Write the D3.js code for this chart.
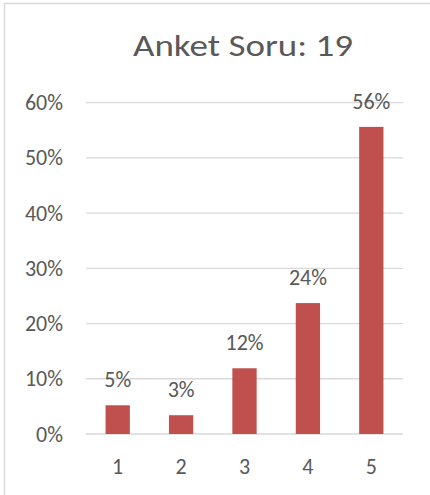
<!DOCTYPE html>
<html>
<head>
<meta charset="utf-8">
<script src="https://cdn.jsdelivr.net/npm/d3@7"></script>
<style>
  body { margin: 0; background: #fff; }
  text { font-family: Calibri, Carlito, Lato, sans-serif; fill: #595959; }
</style>
</head>
<body>
<div id="chart"></div>
<script>
// survey answers 1..5 and their share
const categories = ["1", "2", "3", "4", "5"];
const values = [0.052, 0.034, 0.119, 0.237, 0.556];
const labels = ["5%", "3%", "12%", "24%", "56%"];
const yTicks = [0, 0.1, 0.2, 0.3, 0.4, 0.5, 0.6];
const title = "Anket Soru: 19";

var W = 430, H = 495;
var fs = "22px";

var svg = d3.select("#chart")
  .append("svg")
  .attr("width", W)
  .attr("height", H);

// chart frame, only top and left edges are visible in the crop
svg.append("line")
  .attr("x1", 4).attr("x2", W).attr("y1", 3.5).attr("y2", 3.5)
  .attr("stroke", "#d9d9d9").attr("stroke-width", 1.5);
svg.append("line")
  .attr("x1", 4.5).attr("x2", 4.5).attr("y1", 3).attr("y2", H)
  .attr("stroke", "#d9d9d9").attr("stroke-width", 1.5);

var x = d3.scaleBand()
  .domain(categories)
  .range([86, 403])
  .paddingInner(0.617)
  .paddingOuter(0.3085);

var y = d3.scaleLinear()
  .domain([0, 0.6])
  .range([434, 102.6]);

// gridlines
svg.append("g")
  .selectAll("line")
  .data(yTicks)
  .enter().append("line")
  .attr("x1", 86).attr("x2", 403)
  .attr("y1", d => y(d)).attr("y2", d => y(d))
  .attr("stroke", "#d9d9d9").attr("stroke-width", 1.3);

// y axis labels
var yAxis = svg.append("g")
  .attr("transform", "translate(70,0)")
  .call(d3.axisLeft(y).tickValues(yTicks).tickFormat(d3.format(".0%")).tickSize(0).tickPadding(7));
yAxis.select(".domain").remove();
yAxis.selectAll("text").style("font-size", fs).attr("fill", "#595959");

// x axis labels
var xAxis = svg.append("g")
  .attr("transform", "translate(0,458)")
  .call(d3.axisBottom(x).tickSize(0).tickPadding(0));
xAxis.select(".domain").remove();
xAxis.selectAll("text").style("font-size", fs).attr("fill", "#595959");

// bars
svg.append("g")
  .selectAll("rect")
  .data(values)
  .enter().append("rect")
  .attr("x", (d, i) => x(categories[i]))
  .attr("width", x.bandwidth())
  .attr("y", d => y(d))
  .attr("height", d => y(0) - y(d))
  .attr("fill", "#c0504d");

// value labels above bars
svg.append("g")
  .selectAll("text")
  .data(values)
  .enter().append("text")
  .attr("x", (d, i) => x(categories[i]) + x.bandwidth() / 2)
  .attr("y", d => y(d) - 18)
  .attr("text-anchor", "middle")
  .style("font-size", fs)
  .text((d, i) => labels[i]);

// title, stretched a bit to the width of the original's wider font
svg.append("text")
  .attr("x", 243)
  .attr("y", 56)
  .attr("text-anchor", "middle")
  .attr("textLength", 220)
  .attr("lengthAdjust", "spacingAndGlyphs")
  .style("font-size", "30px")
  .text(title);
</script>
</body>
</html>
